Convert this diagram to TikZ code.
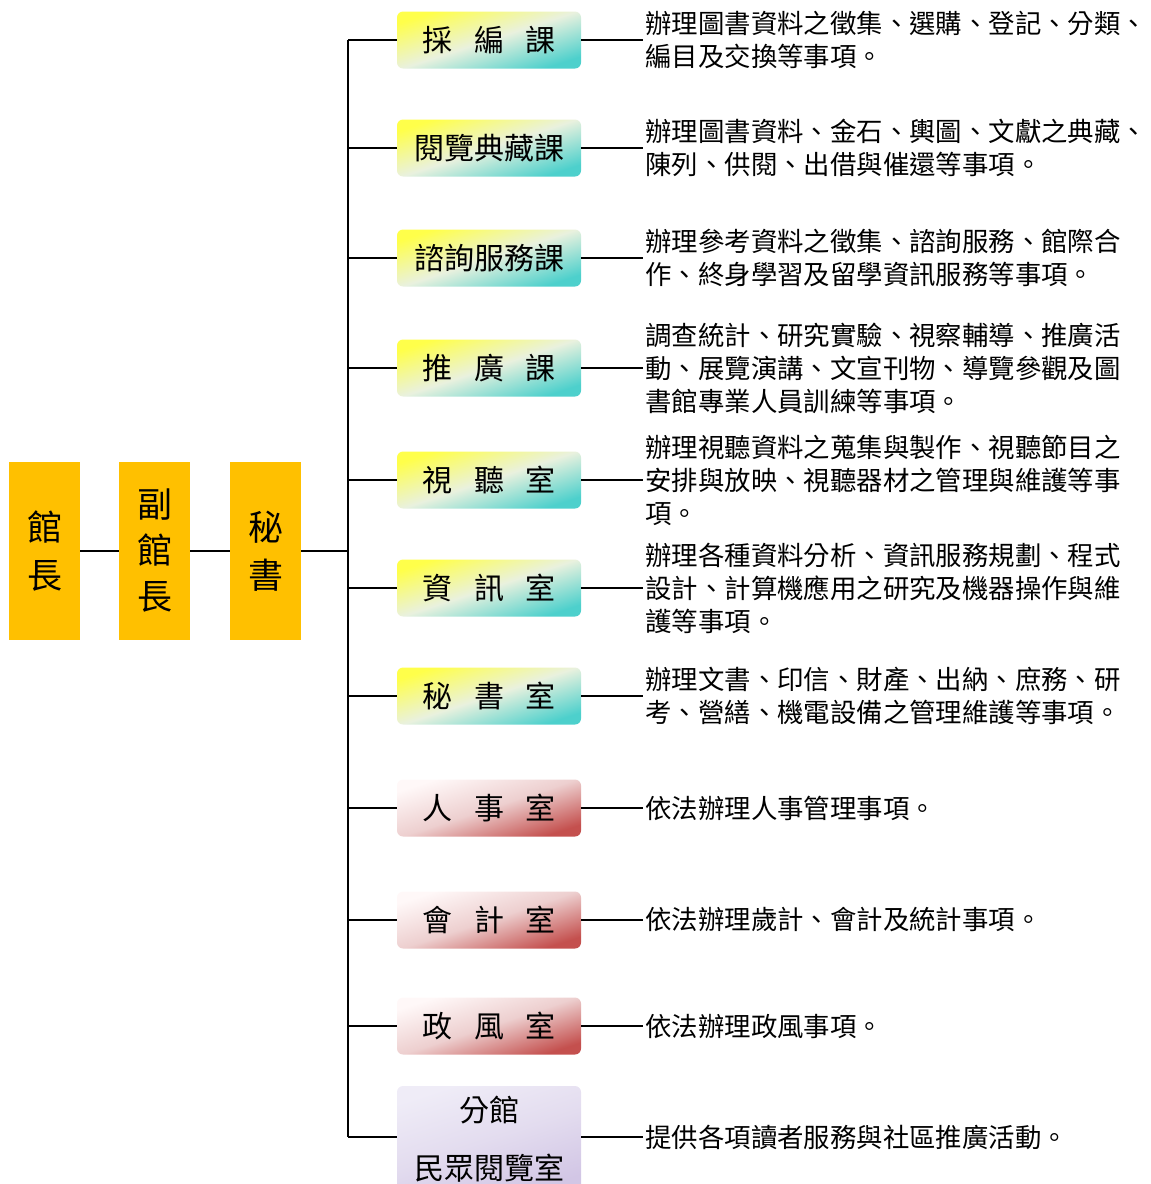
\documentclass[tikz,border=0pt]{standalone}
\usepackage{fontspec}
\setmainfont{Noto Sans CJK TC}
\newcommand\kong{\hspace{.72em}}
\definecolor{gold}{HTML}{FFC000}
\definecolor{kyellow}{HTML}{FFFF4A}
\definecolor{kmid}{HTML}{E9F1DE}
\definecolor{kteal}{HTML}{4DD0CC}
\definecolor{spale}{HTML}{FFF8F8}
\definecolor{smid}{HTML}{EDCFCF}
\definecolor{sred}{HTML}{C4504E}
\definecolor{fpale}{HTML}{EFECF7}
\definecolor{fmid}{HTML}{E3DCEF}
\definecolor{fdeep}{HTML}{D2C6E5}
\tikzset{
  lead/.style={fill=gold, minimum width=35.5pt, minimum height=89pt, inner sep=0pt,
    align=center, font=\fontsize{17.5}{24}\selectfont},
  unit/.style={rounded corners=3pt, minimum width=92pt, minimum height=28.5pt,
    inner sep=0pt, align=center, font=\fontsize{15}{29}\selectfont},
  ke/.style={unit, top color=kyellow, bottom color=kteal, middle color=kmid, shading angle=18},
  shi/.style={unit, top color=spale, bottom color=sred, middle color=smid, shading angle=18},
  fen/.style={unit, minimum height=53pt, top color=fpale, bottom color=fdeep, middle color=fmid, shading angle=18},
  duty/.style={anchor=west, inner sep=1pt, align=left, font=\fontsize{13.2}{16.5}\selectfont},
  branch/.style={line width=1pt},
  trunk/.style={line width=1.4pt}
}
\begin{document}
\begin{tikzpicture}[x=0.5pt, y=-0.5pt]
  \useasboundingbox (0,0) rectangle (1151,1184);
  % leaders
  \node[lead] (gz)  at (44.5,551)  {館\\長};
  \node[lead, font=\fontsize{17.5}{23}\selectfont] (fgz) at (154.5,551) {副\\館\\長};
  \node[lead] (ms)  at (265.5,551) {秘\\書};
  \draw[branch] (gz) -- (fgz) -- (ms);
  % units
  \node[ke]  (k1)  at (489,40)   {採\kong 編\kong 課};
  \node[ke]  (k2)  at (489,148)  {閱覽典藏課};
  \node[ke]  (k3)  at (489,258)  {諮詢服務課};
  \node[ke]  (k4)  at (489,368)  {推\kong 廣\kong 課};
  \node[ke]  (k5)  at (489,480)  {視\kong 聽\kong 室};
  \node[ke]  (k6)  at (489,588)  {資\kong 訊\kong 室};
  \node[ke]  (k7)  at (489,696)  {秘\kong 書\kong 室};
  \node[shi] (k8)  at (489,808)  {人\kong 事\kong 室};
  \node[shi] (k9)  at (489,920)  {會\kong 計\kong 室};
  \node[shi] (k10) at (489,1026) {政\kong 風\kong 室};
  \node[fen] (k11) at (489,1139) {分館\\民眾閱覽室};
  % duties
  \node[duty] (d1)  at (643,40)   {辦理圖書資料之徵集、選購、登記、分類、\\編目及交換等事項。};
  \node[duty] (d2)  at (643,148)  {辦理圖書資料、金石、輿圖、文獻之典藏、\\陳列、供閱、出借與催還等事項。};
  \node[duty] (d3)  at (643,258)  {辦理參考資料之徵集、諮詢服務、館際合\\作、終身學習及留學資訊服務等事項。};
  \node[duty] (d4)  at (643,368)  {調查統計、研究實驗、視察輔導、推廣活\\動、展覽演講、文宣刊物、導覽參觀及圖\\書館專業人員訓練等事項。};
  \node[duty] (d5)  at (643,480)  {辦理視聽資料之蒐集與製作、視聽節目之\\安排與放映、視聽器材之管理與維護等事\\項。};
  \node[duty] (d6)  at (643,588)  {辦理各種資料分析、資訊服務規劃、程式\\設計、計算機應用之研究及機器操作與維\\護等事項。};
  \node[duty] (d7)  at (643,696)  {辦理文書、印信、財產、出納、庶務、研\\考、營繕、機電設備之管理維護等事項。};
  \node[duty] (d8)  at (643,808)  {依法辦理人事管理事項。};
  \node[duty] (d9)  at (643,920)  {依法辦理歲計、會計及統計事項。};
  \node[duty] (d10) at (643,1026) {依法辦理政風事項。};
  \node[duty] (d11) at (643,1137) {提供各項讀者服務與社區推廣活動。};
  % connectors
  \foreach \i in {1,...,11}
    \coordinate (t\i) at (348,0 |- k\i);
  \coordinate (t11) at (348,1137);
  \draw[trunk] (t1) -- (t11);
  \draw[trunk] (ms) -- (ms -| t1);
  \foreach \i in {1,...,10}
    \draw[branch] (t\i) -- (k\i) (k\i) -- (d\i);
  \draw[branch] (t11) -- (t11 -| k11.west) (t11 -| k11.east) -- (d11);
\end{tikzpicture}
\end{document}
